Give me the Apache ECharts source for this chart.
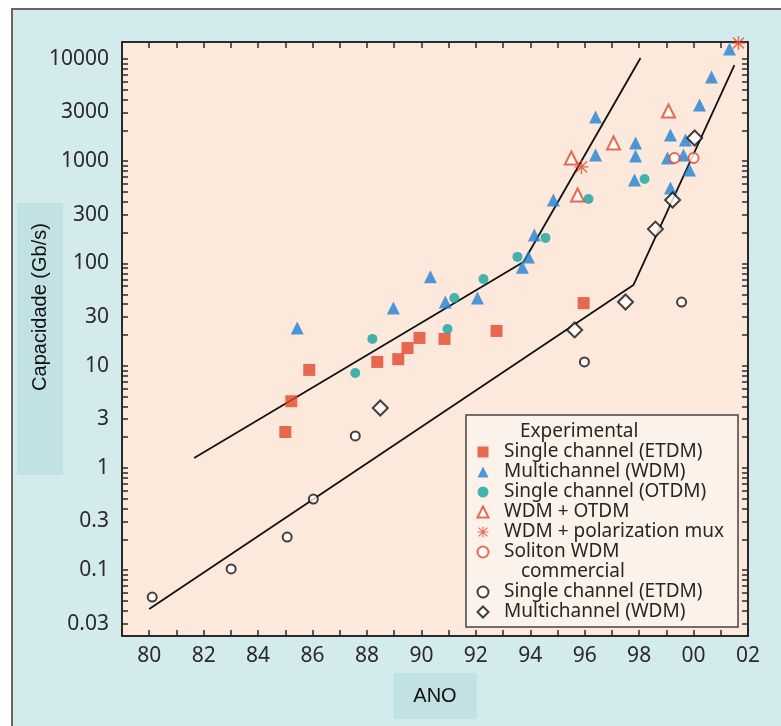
<!DOCTYPE html>
<html>
<head>
<meta charset="utf-8">
<title>Capacidade x ANO</title>
<script src="https://cdn.jsdelivr.net/npm/echarts@6/dist/echarts.min.js"></script>
<style>
  html, body { margin: 0; padding: 0; background: #fff; }
  #chart { width: 781px; height: 726px; }
</style>
</head>
<body>
<div id="chart"></div>
<script>
// experimental
const expEtdm = [[1985.0, 2.25], [1985.22, 4.5], [1985.88, 9.1], [1988.38, 10.9], [1989.15, 11.6],
  [1989.49, 14.9], [1989.93, 18.7], [1990.85, 18.3], [1992.76, 21.9], [1995.96, 41]];
const expWdm = [[1985.44, 23.4], [1988.97, 36.7], [1990.33, 74], [1990.88, 42], [1992.06, 46],
  [1993.71, 92], [1993.93, 116], [1994.15, 190], [1994.85, 418], [1996.4, 2710], [1996.4, 1150],
  [1997.87, 1510], [1997.87, 1125], [1997.83, 656], [1999.15, 1806], [1999.04, 1076], [1999.15, 547],
  [1999.7, 1614], [1999.63, 1150], [1999.85, 821], [2000.22, 3550], [2000.66, 6660], [2001.32, 12530]];
const expOtdm = [[1987.57, 8.5], [1988.2, 18.3], [1990.96, 22.9], [1991.21, 46], [1992.28, 70.5],
  [1993.53, 116], [1994.56, 178], [1996.14, 427], [1998.2, 670]];
const wdmOtdm = [[1995.51, 1076], [1995.74, 468], [1997.06, 1510], [1999.08, 3100]];
const wdmPolMux = [[1995.88, 880], [2001.65, 14330]];
const solitonWdm = [[1999.3, 1076], [2000.0, 1076]];
// commercial
const comEtdm = [[1980.11, 0.0547], [1983.01, 0.103], [1985.07, 0.211], [1986.03, 0.497],
  [1987.57, 2.06], [1995.99, 10.9], [1999.56, 42]];
const comWdm = [[1988.49, 3.86], [1995.63, 22.4], [1997.5, 42], [1998.6, 217], [1999.23, 418], [2000.04, 1688]];
// trend lines
const trendExp = [[1981.65, 1.25], [1993.75, 103.5], [1998.05, 10230]];
const trendCom = [[1980.0, 0.0418], [1997.79, 61.6], [2001.5, 8730]];

const yearLabels = [1980, 1982, 1984, 1986, 1988, 1990, 1992, 1994, 1996, 1998, 2000, 2002];
const capLabels = [0.03, 0.1, 0.3, 1, 3, 10, 30, 100, 300, 1000, 3000, 10000];

const names = {
  expEtdm: 'Single channel (ETDM)',
  expWdm: 'Multichannel (WDM)',
  expOtdm: 'Single channel (OTDM)',
  wdmOtdm: 'WDM + OTDM',
  wdmPolMux: 'WDM + polarization mux',
  solitonWdm: 'Soliton WDM',
  comEtdm: 'Single channel (ETDM)',
  comWdm: 'Multichannel (WDM)'
};

const yMin = 0.02275, yMax = 14660;
// log minor ticks 1..9 x 10^k
const logTicks = [];
for (let k = -2; k <= 4; k++) {
  for (let m = 1; m <= 9; m++) {
    const v = m * Math.pow(10, k);
    if (v >= yMin && v <= yMax) logTicks.push(v);
  }
}

const RED = '#e2462c', BLUE = '#1f7fd4', TEAL = '#17a3a0', INK = '#2a2a2a';
const FONT = 'Noto Sans';
const asterisk = 'path://M9 0H11V20H9Z M0 9H20V11H0Z M2.7 1.3L18.7 17.3L17.3 18.7L1.3 2.7Z M17.3 1.3L18.7 2.7L2.7 18.7L1.3 17.3Z';

const chart = echarts.init(document.getElementById('chart'));

function xAx(pos) {
  return {
    type: 'value', position: pos, min: 1979, max: 2002, interval: 1,
    axisLine: { show: true, onZero: false, lineStyle: { color: INK, width: 2 } },
    axisTick: { show: true, inside: true, length: 6, lineStyle: { color: INK, width: 1.5 } },
    axisLabel: {
      show: pos === 'bottom', customValues: yearLabels, margin: 10,
      formatter: v => String(v % 100).padStart(2, '0'),
      fontFamily: FONT, fontSize: 21, color: INK
    },
    splitLine: { show: false }
  };
}
function yAx(pos) {
  return {
    type: 'log', logBase: 10, position: pos, min: yMin, max: yMax,
    axisLine: { show: true, onZero: false, lineStyle: { color: INK, width: 2 } },
    axisTick: { show: true, inside: true, length: 6, customValues: logTicks, lineStyle: { color: INK, width: 1.5 } },
    axisLabel: {
      show: pos === 'left', customValues: capLabels, margin: 13,
      formatter: v => v < 1 ? String(+v.toPrecision(1)) : String(Math.round(v)),
      fontFamily: FONT, fontSize: 21, color: INK
    },
    splitLine: { show: false },
    minorTick: { show: false }
  };
}

const xBottom = Object.assign(xAx('bottom'), {
  name: 'ANO', nameLocation: 'middle', nameGap: 37, nameMoveOverlap: false,
  nameTextStyle: { fontFamily: 'Liberation Sans', fontSize: 20, color: '#111',
    backgroundColor: '#c2e1e4', padding: [13, 20, 13, 20] }
});
const yLeft = Object.assign(yAx('left'), {
  name: 'Capacidade (Gb/s)', nameLocation: 'middle', nameGap: 59, nameMoveOverlap: false,
  nameTextStyle: { fontFamily: 'Liberation Sans', fontSize: 20, color: '#111',
    backgroundColor: '#c2e1e4', padding: [13, 20, 13, 84] }
});

function scatter(key, data, symbol, size, color, extra) {
  return Object.assign({
    name: key, type: 'scatter', data: data, symbol: symbol, symbolSize: size,
    symbolKeepAspect: true, itemStyle: { color: color }, z: 3
  }, extra || {});
}
function trend(data) {
  return {
    type: 'line', data: data, symbol: 'none', silent: true, z: 2,
    lineStyle: { color: '#111', width: 1.8 }
  };
}

const legendBase = {
  orient: 'vertical', left: 476.5, padding: 0, itemGap: 0,
  itemWidth: 11, itemHeight: 11, selectedMode: false, z: 8,
  formatter: n => names[n],
  textStyle: { fontFamily: FONT, fontSize: 19, lineHeight: 20, color: '#262626', padding: [0, 0, 0, 10.5] }
};

const option = {
  animation: false,
  backgroundColor: '#fff',
  grid: { left: 122, right: 33, top: 42, bottom: 90, show: true,
    backgroundColor: '#fde9dc', borderWidth: 0 },
  xAxis: [xBottom, xAx('top')],
  yAxis: [yLeft, yAx('right')],
  legend: [
    Object.assign({ top: 442, data: ['expEtdm', 'expWdm', 'expOtdm', 'wdmOtdm', 'wdmPolMux', 'solitonWdm'] }, legendBase),
    Object.assign({ top: 582, data: ['comEtdm', 'comWdm'] }, legendBase)
  ],
  graphic: [
    { type: 'rect', z: -10, silent: true, shape: { x: 12, y: 9, width: 800, height: 760 },
      style: { fill: '#d4ebee', stroke: '#666', lineWidth: 2 } },
    { type: 'rect', z: 6, silent: true, shape: { x: 466, y: 415, width: 272, height: 212 },
      style: { fill: '#fdf2ea', stroke: '#444', lineWidth: 1.5 } },
    { type: 'text', z: 7, silent: true, left: 520, top: 422,
      style: { text: 'Experimental', font: '19px "Noto Sans"', fill: '#262626' } },
    { type: 'text', z: 7, silent: true, left: 521, top: 562,
      style: { text: 'commercial', font: '19px "Noto Sans"', fill: '#262626' } }
  ],
  series: [
    trend(trendExp),
    trend(trendCom),
    scatter('expEtdm', expEtdm, 'rect', 12, RED),
    scatter('expWdm', expWdm, 'triangle', 13, BLUE),
    scatter('expOtdm', expOtdm, 'circle', 10, TEAL),
    scatter('wdmOtdm', wdmOtdm, 'emptyTriangle', 13, RED, { itemStyle: { color: RED, borderWidth: 1.5 } }),
    scatter('wdmPolMux', wdmPolMux, asterisk, 14, RED),
    scatter('solitonWdm', solitonWdm, 'emptyCircle', 10, RED, { itemStyle: { color: RED, borderWidth: 1.5 } }),
    scatter('comEtdm', comEtdm, 'emptyCircle', 9, '#111', { itemStyle: { color: '#111', borderWidth: 2.2 } }),
    scatter('comWdm', comWdm, 'emptyDiamond', 15, '#111', { itemStyle: { color: '#111', borderWidth: 2.2 } })
  ]
};

chart.setOption(option);
</script>
</body>
</html>
